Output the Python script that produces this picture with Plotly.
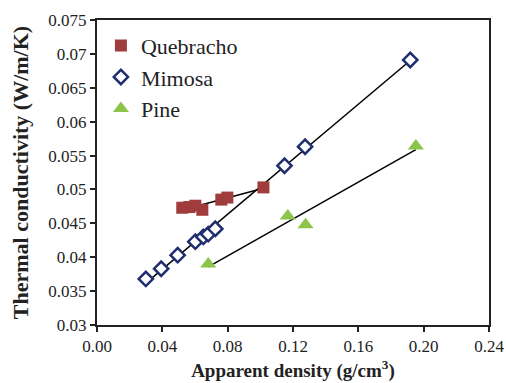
import plotly.graph_objects as go

quebracho_x = [0.0522, 0.0565, 0.0602, 0.0645, 0.0761, 0.0798, 0.1019]
quebracho_y = [0.0473, 0.0474, 0.0476, 0.0470, 0.0485, 0.0488, 0.0503]

mimosa_x = [0.0299, 0.0393, 0.0494, 0.0602, 0.0651, 0.0681, 0.0724, 0.1148, 0.1274, 0.1918]
mimosa_y = [0.0368, 0.0383, 0.0403, 0.0423, 0.0430, 0.0434, 0.0442, 0.0535, 0.0563, 0.0691]

pine_x = [0.0681, 0.1168, 0.1277, 0.1952]
pine_y = [0.0390, 0.0461, 0.0448, 0.0564]

x_ticks = [0.00, 0.04, 0.08, 0.12, 0.16, 0.20, 0.24]

font_family = "Liberation Serif"

fig = go.Figure()

def trend(xs, ys):
    n = len(xs)
    mx = sum(xs) / n
    my = sum(ys) / n
    sxx = sum((x - mx) ** 2 for x in xs)
    sxy = sum((x - mx) * (y - my) for x, y in zip(xs, ys))
    b = sxy / sxx
    a = my - b * mx
    x0, x1 = min(xs), max(xs)
    return [x0, x1], [a + b * x0, a + b * x1]

for xs, ys in [(quebracho_x, quebracho_y), (mimosa_x, mimosa_y), (pine_x, pine_y)]:
    tx, ty = trend(xs, ys)
    fig.add_trace(go.Scatter(x=tx, y=ty, mode="lines", line=dict(color="black", width=1.5),
                             showlegend=False, hoverinfo="skip"))

fig.add_trace(go.Scatter(x=quebracho_x, y=quebracho_y, mode="markers", name="Quebracho",
                         legendgroup="q",
                         marker=dict(symbol="square", size=12, color="#A03C3C")))
fig.add_trace(go.Scatter(x=mimosa_x, y=mimosa_y, mode="markers", name="Mimosa",
                         legendgroup="m",
                         marker=dict(symbol="diamond", size=11, color="white",
                                     line=dict(color="#1F2E6E", width=2.5))))
fig.add_trace(go.Scatter(x=pine_x, y=pine_y, mode="markers", name="Pine",
                         legendgroup="p",
                         marker=dict(symbol="triangle-up", size=14, color="#8CC54A")))

fig.update_layout(
    width=506, height=383,
    margin=dict(l=97, r=17, t=20, b=58),
    paper_bgcolor="white", plot_bgcolor="white",
    font=dict(family=font_family, size=17, color="#222"),
    legend=dict(x=0.01, y=0.985, xanchor="left", yanchor="top",
                font=dict(family=font_family, size=22, color="#222"),
                bgcolor="rgba(0,0,0,0)", traceorder="grouped",
                itemwidth=30, tracegroupgap=0),
    xaxis=dict(range=[0, 0.24], tickvals=x_ticks, tickformat=".2f",
               automargin=False,
               showgrid=False, zeroline=False, showline=True, linecolor="#222",
               linewidth=2, mirror=True, ticks="outside", ticklen=5,
               tickcolor="#222", tickwidth=1.5,
               title=dict(text="<b>Apparent density (g/cm<sup>3</sup>)</b>",
                          font=dict(family=font_family, size=19), standoff=8)),
    yaxis=dict(range=[0.03, 0.075], dtick=0.005, tick0=0.03,
               automargin=False,
               showgrid=False, zeroline=False, showline=True, linecolor="#222",
               linewidth=2, mirror=True, ticks="outside", ticklen=5,
               tickcolor="#222", tickwidth=1.5,
               title=dict(text="<b>Thermal conductivity (W/m/K)</b>",
                          font=dict(family=font_family, size=22), standoff=14)),
)

fig.write_html("out.html",
               config={"displayModeBar": False},
               post_script="document.body.style.margin='0';document.body.style.overflow='hidden';")
